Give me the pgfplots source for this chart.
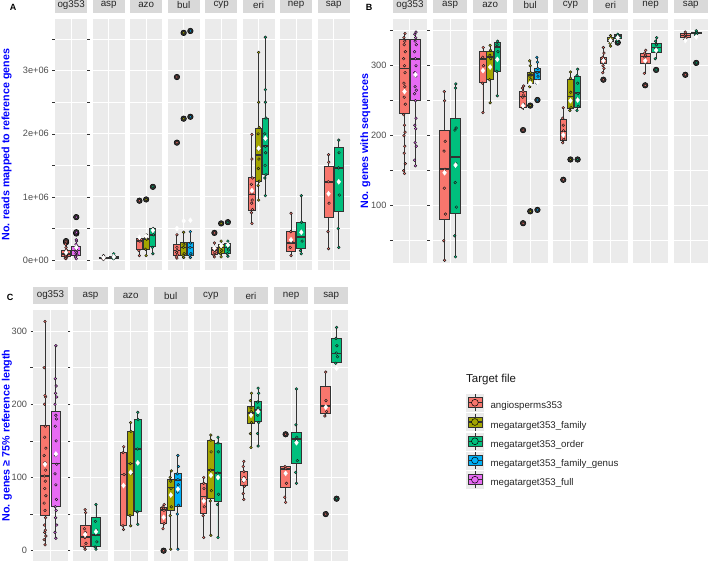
\documentclass[border=0pt]{standalone}
\usepackage{fontspec}
\setmainfont{Liberation Sans}
\setsansfont{Liberation Sans}
\usepackage{pgfplots}
\pgfplotsset{compat=1.18}
\usepgfplotslibrary{statistics}
\definecolor{cR}{HTML}{F8766D}
\definecolor{cO}{HTML}{A3A500}
\definecolor{cG}{HTML}{00BF7D}
\definecolor{cB}{HTML}{00B0F6}
\definecolor{cP}{HTML}{E76BF3}
\definecolor{bgp}{HTML}{EBEBEB}
\definecolor{bgs}{HTML}{D9D9D9}
\definecolor{lblue}{HTML}{0000FF}
\definecolor{tkl}{HTML}{4D4D4D}
\definecolor{tkm}{HTML}{333333}
\newcommand{\bx}[8]{\addplot[draw=tkm, line width=0.85pt, fill=#2, boxplot prepared={draw direction=y, draw position=#1, lower whisker=#3, lower quartile=#4, median=#5, upper quartile=#6, upper whisker=#7, box extend=#8, whisker extend=0, every median/.style={line width=1.7pt}}] coordinates {};}
\pgfplotsset{
 /pgf/number format/assume math mode=true,
 facet/.style={scale only axis, xmin=-0.6, xmax=0.6, xtick={0}, xticklabels={},
  axis line style={draw=none}, xtick style={draw=none},
  axis background/.style={fill=bgp},
  grid=both, major grid style={draw=white, line width=1pt}, minor grid style={draw=white, line width=0.5pt},
  title style={at={(0.5,1)}, anchor=south, fill=bgs, inner sep=0pt, minimum height=16.5pt, text=black!85, font=\fontsize{9.8}{10}\selectfont, yshift=0pt},
  tick align=outside, major tick length=2.7pt,
  yticklabel style={font=\fontsize{9.2}{10}\selectfont, text=tkl},
  ylabel style={font=\bfseries\fontsize{10.7}{12}\selectfont, text=lblue, anchor=center}},
 rest/.style={yticklabels={}, ytick style={draw=none}},
 first/.style={ytick style={draw=tkm, line width=0.5pt}},
 pA/.style={facet, width=32.3pt, height=250.7pt, ymin=-0.158, ymax=3.815, ytick={0,1,2,3}, minor ytick={0.5,1.5,2.5,3.5}, title style={minimum width=32.3pt}},
 pB/.style={facet, width=34.5pt, height=244pt, ymin=17.7, ymax=366.3, ytick={100,200,300}, minor ytick={50,150,250,350}, title style={minimum width=34.5pt}},
 pC/.style={facet, width=34.3pt, height=251pt, ymin=-14.1, ymax=328.8, ytick={0,100,200,300}, minor ytick={50,150,250}, title style={minimum width=34.3pt}},
 outl/.style={only marks, mark=*, mark size=2.8pt, mark options={draw=black, fill=black!80, line width=0.5pt}},
 pts/.style={only marks, mark=*, mark size=1.35pt, mark options={draw=black!90, fill=#1, line width=0.45pt}},
 mn/.style={only marks, mark=diamond*, mark size=2.5pt, mark options={draw=white, fill=white}},
 lkey/.style={legend image code/.code={%
  \begin{scope}[yshift=3.4pt]
  \fill[bgp] (0pt,-8.5pt) rectangle (17pt,8.5pt);
  \draw[tkm,line width=0.5pt] (8.5pt,-8.5pt)--(8.5pt,8.5pt);
  \draw[tkm,fill=#1,line width=0.6pt] (1.5pt,-5pt) rectangle (15.5pt,5pt);
  \draw[tkm,line width=1.2pt] (1.5pt,0pt)--(15.5pt,0pt);
  \draw[black,fill=#1,line width=0.5pt] (8.5pt,0pt) circle (3.4pt);
  \end{scope}}}
}
\begin{document}
\begin{tikzpicture}[x=1pt,y=1pt]
\path[use as bounding box] (0,0) rectangle (709,562);
% ================= Panel A =================
\begin{axis}[pA, first, at={(55pt,292pt)}, anchor=south west, title=og353, yticklabels={0e+00,1e+06,2e+06,3e+06},
 ylabel={No. reads mapped to reference genes}, ylabel style={at={(axis description cs:-1.5,0.5)}}]
\bx{-0.19}{cR}{0.02}{0.063}{0.1}{0.147}{0.25}{0.34}
\bx{0.19}{cP}{0.02}{0.08}{0.15}{0.22}{0.32}{0.34}
\addplot[outl] coordinates {(-0.19,0.28)(-0.19,0.3)(0.19,0.42)(0.19,0.44)(0.19,0.68)};
\addplot[pts=cR] coordinates {(-0.19,0.02)(-0.22,0.03)(-0.16,0.05)(-0.2,0.06)(-0.17,0.07)(-0.21,0.08)(-0.18,0.09)(-0.2,0.1)(-0.22,0.11)(-0.16,0.12)(-0.2,0.14)(-0.18,0.16)(-0.19,0.2)(-0.21,0.25)(-0.17,0.28)(-0.19,0.3)};
\addplot[pts=cP] coordinates {(0.19,0.02)(0.16,0.05)(0.22,0.08)(0.18,0.1)(0.2,0.12)(0.17,0.14)(0.21,0.15)(0.19,0.17)(0.16,0.2)(0.22,0.22)(0.18,0.25)(0.2,0.3)(0.19,0.32)(0.19,0.42)(0.2,0.44)(0.19,0.68)};
\addplot[mn] coordinates {(-0.19,0.12)(0.19,0.2)};
\end{axis}
\begin{axis}[pA, rest, at={(92.5pt,292pt)}, anchor=south west, title=asp]
\bx{-0.19}{cR}{0.01}{0.02}{0.035}{0.045}{0.07}{0.34}
\bx{0.19}{cG}{0.02}{0.03}{0.045}{0.06}{0.1}{0.34}
\addplot[pts=cR] coordinates {(-0.19,0.01)(-0.22,0.02)(-0.16,0.03)(-0.2,0.04)(-0.18,0.05)(-0.19,0.07)};
\addplot[pts=cG] coordinates {(0.19,0.02)(0.16,0.03)(0.22,0.04)(0.18,0.05)(0.2,0.07)(0.19,0.1)};
\addplot[mn] coordinates {(-0.19,0.037)(0.19,0.05)};
\end{axis}
\begin{axis}[pA, rest, at={(130pt,292pt)}, anchor=south west, title=azo]
\bx{-0.25}{cR}{0.07}{0.17}{0.3}{0.35}{0.37}{0.225}
\bx{0}{cO}{0.07}{0.17}{0.33}{0.35}{0.4}{0.225}
\bx{0.25}{cG}{0.1}{0.21}{0.4}{0.5}{0.5}{0.225}
\addplot[outl] coordinates {(-0.25,0.94)(0,0.96)(0.25,1.16)};
\addplot[pts=cR] coordinates {(-0.25,0.07)(-0.27,0.15)(-0.23,0.3)(-0.26,0.33)(-0.24,0.36)(-0.25,0.94)};
\addplot[pts=cO] coordinates {(0,0.07)(-0.02,0.17)(0.02,0.33)(-0.01,0.36)(0.01,0.4)(0,0.96)};
\addplot[pts=cG] coordinates {(0.25,0.1)(0.23,0.2)(0.27,0.4)(0.24,0.45)(0.26,0.5)(0.25,1.16)};
\addplot[mn] coordinates {(-0.25,0.36)(0,0.38)(0.25,0.47)};
\end{axis}
\begin{axis}[pA, rest, at={(167.5pt,292pt)}, anchor=south west, title=bul]
\bx{-0.25}{cR}{0.03}{0.07}{0.15}{0.24}{0.4}{0.225}
\bx{0}{cO}{0.04}{0.08}{0.2}{0.28}{0.44}{0.225}
\bx{0.25}{cB}{0.04}{0.08}{0.2}{0.28}{0.45}{0.225}
\addplot[outl] coordinates {(-0.25,1.86)(-0.25,2.9)(0,2.24)(0,3.6)(0.25,2.27)(0.25,3.63)};
\addplot[pts=cR] coordinates {(-0.25,0.03)(-0.27,0.05)(-0.23,0.08)(-0.26,0.12)(-0.24,0.15)(-0.25,0.2)(-0.25,0.4)(-0.25,1.86)(-0.25,2.9)};
\addplot[pts=cO] coordinates {(0,0.04)(-0.02,0.07)(0.02,0.1)(-0.01,0.2)(0.01,0.25)(0,0.44)(0,2.24)(0,3.6)};
\addplot[pts=cB] coordinates {(0.25,0.04)(0.23,0.07)(0.27,0.1)(0.24,0.2)(0.26,0.27)(0.25,0.45)(0.25,2.27)(0.25,3.63)};
\addplot[mn] coordinates {(-0.25,0.5)(0,0.62)(0.25,0.63)};
\end{axis}
\begin{axis}[pA, rest, at={(205pt,292pt)}, anchor=south west, title=cyp]
\bx{-0.25}{cR}{0.05}{0.09}{0.16}{0.2}{0.27}{0.225}
\bx{0}{cO}{0.05}{0.1}{0.2}{0.24}{0.3}{0.225}
\bx{0.25}{cG}{0.06}{0.1}{0.2}{0.26}{0.3}{0.225}
\addplot[outl] coordinates {(-0.25,0.43)(0,0.58)(0.25,0.6)};
\addplot[pts=cR] coordinates {(-0.25,0.05)(-0.27,0.08)(-0.23,0.12)(-0.26,0.16)(-0.24,0.2)(-0.25,0.27)(-0.25,0.43)};
\addplot[pts=cO] coordinates {(0,0.05)(-0.02,0.1)(0.02,0.15)(-0.01,0.2)(0.01,0.24)(0,0.3)(0,0.58)};
\addplot[pts=cG] coordinates {(0.25,0.06)(0.23,0.1)(0.27,0.16)(0.24,0.2)(0.26,0.26)(0.25,0.3)(0.25,0.6)};
\addplot[mn] coordinates {(-0.25,0.19)(0,0.23)(0.25,0.24)};
\end{axis}
\begin{axis}[pA, rest, at={(242.5pt,292pt)}, anchor=south west, title=eri]
\bx{-0.25}{cR}{0.58}{0.78}{1.04}{1.31}{1.99}{0.225}
\bx{0}{cO}{0.95}{1.24}{1.66}{2.08}{3.29}{0.225}
\bx{0.25}{cG}{1.02}{1.35}{1.81}{2.25}{3.53}{0.225}
\addplot[pts=cR] coordinates {(-0.25,0.58)(-0.27,0.75)(-0.23,0.8)(-0.26,0.9)(-0.24,0.95)(-0.25,1.05)(-0.27,1.2)(-0.23,1.3)(-0.25,1.6)(-0.25,1.99)};
\addplot[pts=cO] coordinates {(0,0.95)(-0.02,1.18)(0.02,1.25)(-0.01,1.45)(0.01,1.6)(0,1.75)(-0.02,2.0)(0.02,2.1)(0,2.5)(0,3.29)};
\addplot[pts=cG] coordinates {(0.25,1.02)(0.23,1.3)(0.27,1.35)(0.24,1.5)(0.26,1.7)(0.25,1.8)(0.23,2.0)(0.27,2.25)(0.25,2.5)(0.25,2.7)(0.25,3.53)};
\addplot[mn] coordinates {(-0.25,1.1)(0,1.77)(0.25,1.93)};
\end{axis}
\begin{axis}[pA, rest, at={(280pt,292pt)}, anchor=south west, title=nep]
\bx{-0.19}{cR}{0.07}{0.13}{0.27}{0.46}{0.74}{0.34}
\bx{0.19}{cG}{0.1}{0.18}{0.37}{0.59}{1.02}{0.34}
\addplot[pts=cR] coordinates {(-0.19,0.07)(-0.22,0.2)(-0.16,0.3)(-0.2,0.45)(-0.19,0.74)};
\addplot[pts=cG] coordinates {(0.19,0.1)(0.16,0.15)(0.22,0.3)(0.18,0.45)(0.2,0.6)(0.19,1.02)};
\addplot[mn] coordinates {(-0.19,0.32)(0.19,0.44)};
\end{axis}
\begin{axis}[pA, rest, at={(317.5pt,292pt)}, anchor=south west, title=sap]
\bx{-0.19}{cR}{0.18}{0.67}{1.24}{1.48}{1.67}{0.34}
\bx{0.19}{cG}{0.2}{0.77}{1.46}{1.79}{1.9}{0.34}
\addplot[pts=cR] coordinates {(-0.19,0.18)(-0.21,0.45)(-0.17,0.9)(-0.2,1.24)(-0.18,1.55)(-0.19,1.67)};
\addplot[pts=cG] coordinates {(0.19,0.2)(0.17,0.5)(0.21,1.03)(0.18,1.46)(0.2,1.7)(0.19,1.9)};
\addplot[mn] coordinates {(-0.19,1.05)(0.19,1.24)};
\end{axis}
% ================= Panel B =================
\begin{axis}[pB, first, at={(392.7pt,298.7pt)}, anchor=south west, title=og353,
 ylabel={No. genes with sequences}, ylabel style={at={(axis description cs:-0.79,0.5)}}]
\bx{-0.19}{cR}{146}{232}{296}{337}{346}{0.34}
\bx{0.19}{cP}{157}{251}{310}{338}{348}{0.34}
\addplot[pts=cR] coordinates {(-0.19,146)(-0.22,150)(-0.16,160)(-0.2,175)(-0.18,185)(-0.21,200)(-0.17,205)(-0.19,215)(-0.22,230)(-0.16,245)(-0.2,255)(-0.18,270)(-0.21,275)(-0.17,290)(-0.19,300)(-0.22,310)(-0.16,320)(-0.2,330)(-0.18,335)(-0.21,340)(-0.17,346)};
\addplot[pts=cP] coordinates {(0.19,157)(0.16,165)(0.22,185)(0.18,190)(0.2,210)(0.17,215)(0.21,225)(0.19,250)(0.16,260)(0.22,265)(0.18,270)(0.2,285)(0.17,290)(0.21,300)(0.19,310)(0.16,320)(0.22,330)(0.18,335)(0.2,340)(0.17,345)(0.21,348)};
\addplot[mn] coordinates {(-0.19,263)(0.19,287)};
\end{axis}
\begin{axis}[pB, rest, at={(432.8pt,298.7pt)}, anchor=south west, title=asp]
\bx{-0.19}{cR}{22}{80}{152}{207}{263}{0.34}
\bx{0.19}{cG}{27}{89}{170}{225}{274}{0.34}
\addplot[pts=cR] coordinates {(-0.19,22)(-0.22,50)(-0.16,88)(-0.2,125)(-0.18,152)(-0.21,178)(-0.17,192)(-0.19,250)(-0.2,263)};
\addplot[pts=cG] coordinates {(0.19,27)(0.16,57)(0.22,98)(0.18,133)(0.2,160)(0.17,208)(0.21,211)(0.19,268)(0.2,274)};
\addplot[mn] coordinates {(-0.19,147)(0.19,158)};
\end{axis}
\begin{axis}[pB, rest, at={(472.9pt,298.7pt)}, anchor=south west, title=azo]
\bx{-0.25}{cR}{233}{276}{310}{320}{326}{0.225}
\bx{0}{cO}{247}{280}{312}{321}{329}{0.225}
\bx{0.25}{cG}{257}{292}{327}{333}{335}{0.225}
\addplot[pts=cR] coordinates {(-0.25,233)(-0.27,275)(-0.23,300)(-0.26,312)(-0.24,326)};
\addplot[pts=cO] coordinates {(0,247)(-0.02,280)(0.02,310)(-0.01,315)(0.01,322)(0,329)};
\addplot[pts=cG] coordinates {(0.25,257)(0.23,292)(0.27,320)(0.24,330)(0.26,335)};
\addplot[mn] coordinates {(-0.25,293)(0,298)(0.25,309)};
\end{axis}
\begin{axis}[pB, rest, at={(513pt,298.7pt)}, anchor=south west, title=bul]
\bx{-0.25}{cR}{237}{240}{256}{263}{271}{0.225}
\bx{0}{cO}{268}{275}{287}{291}{307}{0.225}
\bx{0.25}{cB}{275}{280}{291}{296}{312}{0.225}
\addplot[outl] coordinates {(-0.25,208)(-0.25,75)(0,243)(0,92)(0.25,251)(0.25,94)};
\addplot[pts=cR] coordinates {(-0.25,75)(-0.25,208)(-0.27,240)(-0.23,245)(-0.26,255)(-0.24,258)(-0.25,263)(-0.27,268)(-0.23,271)};
\addplot[pts=cO] coordinates {(0,92)(0,243)(-0.02,270)(0.02,280)(-0.01,285)(0.01,290)(0,300)(-0.02,307)};
\addplot[pts=cB] coordinates {(0.25,94)(0.25,251)(0.23,275)(0.27,285)(0.24,290)(0.26,296)(0.25,305)(0.23,312)};
\addplot[mn] coordinates {(-0.25,243)(0,275)(0.25,276)};
\end{axis}
\begin{axis}[pB, rest, at={(553.2pt,298.7pt)}, anchor=south west, title=cyp]
\bx{-0.25}{cR}{190}{193}{206}{223}{240}{0.225}
\bx{0}{cO}{236}{239}{256}{281}{291}{0.225}
\bx{0.25}{cG}{236}{241}{261}{284}{295}{0.225}
\addplot[outl] coordinates {(-0.25,137)(0,166)(0.25,166)};
\addplot[pts=cR] coordinates {(-0.25,137)(-0.27,190)(-0.23,195)(-0.26,200)(-0.24,207)(-0.25,215)(-0.27,225)(-0.25,240)};
\addplot[pts=cO] coordinates {(0,166)(-0.02,236)(0.02,240)(-0.01,250)(0.01,262)(0,282)(0,291)};
\addplot[pts=cG] coordinates {(0.25,166)(0.23,236)(0.27,242)(0.24,253)(0.26,260)(0.25,275)(0.23,286)(0.25,295)};
\addplot[mn] coordinates {(-0.25,201)(0,250)(0.25,251)};
\end{axis}
\begin{axis}[pB, rest, at={(593.3pt,298.7pt)}, anchor=south west, title=eri]
\bx{-0.25}{cR}{290}{303}{309}{312}{326}{0.225}
\bx{0}{cO}{328}{334}{337}{340}{343}{0.225}
\bx{0.25}{cG}{335}{339}{342}{344}{345}{0.225}
\addplot[outl] coordinates {(-0.25,280)(0.25,333)};
\addplot[pts=cR] coordinates {(-0.25,280)(-0.27,290)(-0.23,296)(-0.26,300)(-0.24,305)(-0.25,310)(-0.27,312)(-0.23,318)(-0.25,326)};
\addplot[pts=cO] coordinates {(0,328)(-0.02,332)(0.02,335)(-0.01,337)(0.01,340)(0,343)};
\addplot[pts=cG] coordinates {(0.25,333)(0.23,336)(0.27,340)(0.24,342)(0.26,344)(0.25,345)};
\addplot[mn] coordinates {(-0.25,307)(0,336)(0.25,340)};
\end{axis}
\begin{axis}[pB, rest, at={(633.4pt,298.7pt)}, anchor=south west, title=nep]
\bx{-0.19}{cR}{289}{303}{313}{318}{322}{0.34}
\bx{0.19}{cG}{310}{319}{326}{332}{340}{0.34}
\addplot[outl] coordinates {(-0.19,272)(0.19,294)};
\addplot[pts=cR] coordinates {(-0.19,272)(-0.22,289)(-0.16,305)(-0.2,312)(-0.18,315)(-0.21,318)(-0.17,322)};
\addplot[pts=cG] coordinates {(0.19,294)(0.16,310)(0.22,320)(0.18,325)(0.2,330)(0.17,335)(0.21,340)};
\addplot[mn] coordinates {(-0.19,307)(0.19,322)};
\end{axis}
\begin{axis}[pB, rest, at={(673.5pt,298.7pt)}, anchor=south west, title=sap]
\bx{-0.19}{cR}{337}{340}{343}{346}{348}{0.34}
\bx{0.19}{cG}{344}{346}{347}{348}{350}{0.34}
\addplot[outl] coordinates {(-0.19,287)(0.19,304)};
\addplot[pts=cR] coordinates {(-0.19,287)(-0.22,337)(-0.16,340)(-0.2,343)(-0.18,345)(-0.19,348)};
\addplot[pts=cG] coordinates {(0.19,304)(0.16,344)(0.22,346)(0.18,347)(0.2,348)(0.19,350)};
\addplot[mn] coordinates {(-0.19,336)(0.19,341)};
\end{axis}
% ================= Panel C =================
\begin{axis}[pC, first, at={(33.3pt,1pt)}, anchor=south west, title=og353,
 ylabel={No. genes ≥ 75\% reference length}, ylabel style={at={(axis description cs:-0.77,0.5)}}]
\bx{-0.19}{cR}{8}{48}{102}{171}{313}{0.34}
\bx{0.19}{cP}{17}{60}{119}{190}{280}{0.34}
\addplot[pts=cR] coordinates {(-0.19,8)(-0.22,15)(-0.16,20)(-0.2,25)(-0.18,28)(-0.21,35)(-0.17,45)(-0.19,55)(-0.22,65)(-0.16,75)(-0.2,85)(-0.18,95)(-0.21,102)(-0.17,110)(-0.19,120)(-0.22,130)(-0.16,140)(-0.2,155)(-0.18,170)(-0.21,200)(-0.17,210)(-0.19,212)(-0.22,250)(-0.19,313)};
\addplot[pts=cP] coordinates {(0.19,17)(0.16,25)(0.22,35)(0.18,45)(0.2,55)(0.17,60)(0.21,70)(0.19,90)(0.16,105)(0.22,118)(0.18,130)(0.2,150)(0.17,170)(0.21,180)(0.19,185)(0.16,200)(0.22,210)(0.18,215)(0.2,225)(0.17,235)(0.19,280)};
\addplot[mn] coordinates {(-0.19,118)(0.19,132)};
\end{axis}
\begin{axis}[pC, rest, at={(73.4pt,1pt)}, anchor=south west, title=asp]
\bx{-0.19}{cR}{2}{5.5}{19}{35}{56}{0.34}
\bx{0.19}{cG}{2}{5.5}{21}{45.5}{63}{0.34}
\addplot[pts=cR] coordinates {(-0.19,2)(-0.22,5)(-0.16,10)(-0.2,18)(-0.18,25)(-0.21,30)(-0.17,52)(-0.19,56)};
\addplot[pts=cG] coordinates {(0.19,2)(0.16,5)(0.22,12)(0.18,22)(0.2,28)(0.17,40)(0.19,63)};
\addplot[mn] coordinates {(-0.19,22)(0.19,26)};
\end{axis}
\begin{axis}[pC, rest, at={(113.5pt,1pt)}, anchor=south west, title=azo]
\bx{-0.25}{cR}{29}{34}{104}{134}{142}{0.225}
\bx{0}{cO}{34}{48}{119}{163}{175}{0.225}
\bx{0.25}{cG}{36}{53}{139}{179}{189}{0.225}
\addplot[pts=cR] coordinates {(-0.25,29)(-0.27,34)(-0.23,104)(-0.26,134)(-0.24,142)};
\addplot[pts=cO] coordinates {(0,34)(-0.02,48)(0.02,105)(-0.01,119)(0.01,163)(0,175)};
\addplot[pts=cG] coordinates {(0.25,36)(0.23,53)(0.27,120)(0.24,139)(0.26,179)(0.25,189)};
\addplot[mn] coordinates {(-0.25,89)(0,107)(0.25,120)};
\end{axis}
\begin{axis}[pC, rest, at={(153.6pt,1pt)}, anchor=south west, title=bul]
\bx{-0.25}{cR}{30}{37}{55.5}{58.7}{63}{0.225}
\bx{0}{cO}{2}{55.5}{86.5}{98}{109}{0.225}
\bx{0.25}{cB}{2}{61}{96.5}{105.6}{130}{0.225}
\addplot[outl] coordinates {(-0.25,0)};
\addplot[pts=cR] coordinates {(-0.25,0)(-0.27,30)(-0.23,37)(-0.26,45)(-0.24,55)(-0.25,58)(-0.27,60)(-0.23,63)};
\addplot[pts=cO] coordinates {(0,2)(-0.02,48)(0.02,60)(-0.01,75)(0.01,85)(0,95)(-0.02,100)(0.02,109)};
\addplot[pts=cB] coordinates {(0.25,2)(0.23,50)(0.27,62)(0.24,80)(0.26,90)(0.25,97)(0.23,105)(0.27,115)(0.25,130)};
\addplot[mn] coordinates {(-0.25,45.5)(0,76)(0.25,84)};
\end{axis}
\begin{axis}[pC, rest, at={(193.7pt,1pt)}, anchor=south west, title=cyp]
\bx{-0.25}{cR}{18}{51}{74}{92}{100}{0.225}
\bx{0}{cO}{21}{71.5}{110}{151}{158}{0.225}
\bx{0.25}{cG}{18}{67}{106.5}{146.6}{155}{0.225}
\addplot[pts=cR] coordinates {(-0.25,18)(-0.27,48)(-0.23,60)(-0.26,70)(-0.24,85)(-0.25,92)(-0.25,100)};
\addplot[pts=cO] coordinates {(0,21)(-0.02,68)(0.02,82)(-0.01,110)(0.01,135)(0,151)(0,158)};
\addplot[pts=cG] coordinates {(0.25,18)(0.23,63)(0.27,77)(0.24,106)(0.26,135)(0.25,147)(0.25,155)};
\addplot[mn] coordinates {(-0.25,68)(0,103)(0.25,100)};
\end{axis}
\begin{axis}[pC, rest, at={(233.8pt,1pt)}, anchor=south west, title=eri]
\bx{-0.25}{cR}{70}{89}{97.4}{108}{122}{0.225}
\bx{0}{cO}{141}{174}{188}{197.5}{215}{0.225}
\bx{0.25}{cG}{143}{176}{192}{203.5}{222}{0.225}
\addplot[pts=cR] coordinates {(-0.25,70)(-0.27,78)(-0.23,88)(-0.26,95)(-0.24,100)(-0.25,108)(-0.27,115)(-0.25,122)};
\addplot[pts=cO] coordinates {(0,141)(-0.02,160)(0.02,175)(-0.01,185)(0.01,190)(0,195)(-0.02,205)(0.02,215)};
\addplot[pts=cG] coordinates {(0.25,143)(0.23,160)(0.27,175)(0.24,185)(0.26,190)(0.25,195)(0.23,203)(0.27,215)(0.25,222)};
\addplot[mn] coordinates {(-0.25,97)(0,185)(0.25,190)};
\end{axis}
\begin{axis}[pC, rest, at={(273.9pt,1pt)}, anchor=south west, title=nep]
\bx{-0.19}{cR}{66}{86.5}{111.5}{114.7}{115}{0.34}
\bx{0.19}{cG}{92}{119}{152.5}{161.6}{221}{0.34}
\addplot[outl] coordinates {(-0.19,159)};
\addplot[pts=cR] coordinates {(-0.19,66)(-0.22,73)(-0.16,92)(-0.2,105)(-0.18,112)(-0.21,115)(-0.19,159)};
\addplot[pts=cG] coordinates {(0.19,92)(0.16,107)(0.22,123)(0.18,150)(0.2,155)(0.17,172)(0.19,221)};
\addplot[mn] coordinates {(-0.19,105.6)(0.19,147.5)};
\end{axis}
\begin{axis}[pC, rest, at={(314pt,1pt)}, anchor=south west, title=sap]
\bx{-0.19}{cR}{184}{188}{197.5}{225}{244}{0.34}
\bx{0.19}{cG}{256}{257}{269.5}{290}{305}{0.34}
\addplot[outl] coordinates {(-0.19,50)(0.19,71)};
\addplot[pts=cR] coordinates {(-0.19,50)(-0.22,184)(-0.16,190)(-0.2,197)(-0.18,205)(-0.19,244)};
\addplot[pts=cG] coordinates {(0.19,71)(0.16,256)(0.22,265)(0.18,270)(0.2,280)(0.17,290)(0.19,305)};
\addplot[mn] coordinates {(-0.19,196)(0.19,249)};
\end{axis}
% ================= Legend =================
\begin{axis}[at={(466pt,168.2pt)}, anchor=south west, scale only axis, width=1pt, height=1pt, hide axis, xmin=0, xmax=1, ymin=0, ymax=1,
 legend cell align=left,
 legend style={at={(0,0)}, anchor=north west, draw=none, fill=none, inner sep=0pt, row sep=1.75pt, column sep=7pt,
  font=\fontsize{9.7}{11}\selectfont, text=black!85, nodes={inner sep=0pt}}]
\addlegendimage{lkey=cR}\addlegendentry{angiosperms353}
\addlegendimage{lkey=cO}\addlegendentry{megatarget353\_family}
\addlegendimage{lkey=cG}\addlegendentry{megatarget353\_order}
\addlegendimage{lkey=cB}\addlegendentry{megatarget353\_family\_genus}
\addlegendimage{lkey=cP}\addlegendentry{megatarget353\_full}
\end{axis}
\node[anchor=west, font=\fontsize{11.5}{12}\selectfont, text=black!90, inner sep=0pt] at (466,182) {Target file};
% panel letters
\node[font=\bfseries\fontsize{9}{9}\selectfont, inner sep=0pt] at (13,555) {A};
\node[font=\bfseries\fontsize{9}{9}\selectfont, inner sep=0pt] at (369,555) {B};
\node[font=\bfseries\fontsize{9}{9}\selectfont, inner sep=0pt] at (10,265) {C};
\end{tikzpicture}
\end{document}
